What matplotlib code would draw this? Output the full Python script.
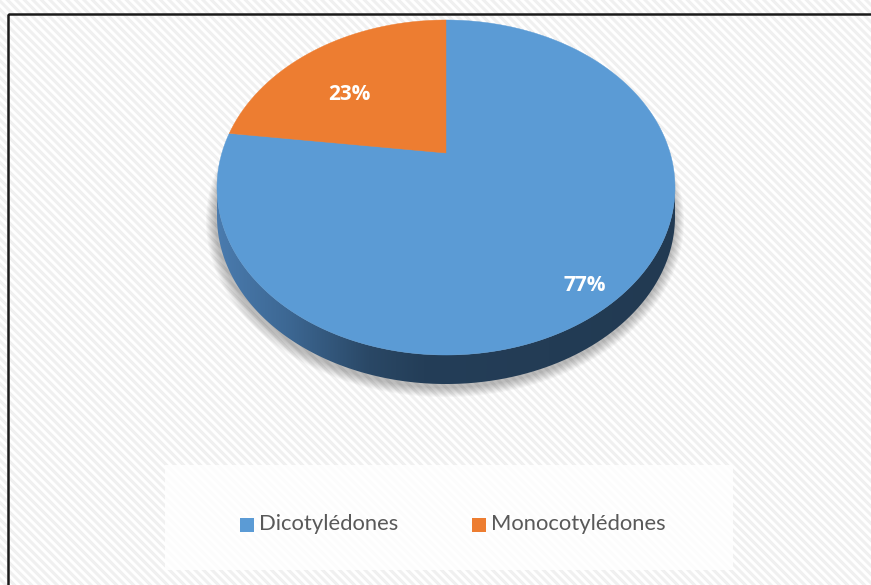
import numpy as np
import matplotlib
matplotlib.use("Agg")
import matplotlib.pyplot as plt
from matplotlib.patches import Polygon, Rectangle
from matplotlib.collections import LineCollection
from matplotlib.colors import LinearSegmentedColormap

# ---- data ----
categories = ["Dicotylédones", "Monocotylédones"]
values = [77, 23]
pct_labels = ["77%", "23%"]
colors = ["#5B9BD5", "#ED7D31"]

W, H = 871, 585
fig = plt.figure(figsize=(W / 100, H / 100), dpi=100)
ax = fig.add_axes([0, 0, 1, 1])
ax.set_xlim(0, W)
ax.set_ylim(H, 0)
ax.axis("off")

# ---- background stripes & border ----
bg = Rectangle((9, 15), W, H, facecolor="white", edgecolor="none", zorder=0)
ax.add_patch(bg)
segs = []
for c in np.arange(-900, 900, 8.5):
    segs.append([(-100, -100 + c), (1100, 1100 + c)])
lc = LineCollection(segs, colors="#f0f0f0", linewidths=2.2, zorder=1)
lc.set_clip_path(bg)
ax.add_collection(lc)
ax.add_patch(Rectangle((8, 14), W + 20, H + 20, facecolor="none",
                       edgecolor="#1a1a1a", linewidth=1.8, zorder=2))

# ---- perspective disc projection ----
cx, cy = 446.0, 153.0
A, B, k = 224.1, 160.4, 0.206
depth = 29.0


def proj(theta_deg, r=1.0, dy=0.0):
    t = np.radians(theta_deg)
    p = r * np.cos(t)
    q = r * np.sin(t)
    d = 1 + k * q
    return cx + A * p / d, cy - B * q / d + dy


# shadow under the pie
th_all = np.linspace(0, 360, 361)
for a in np.linspace(10, 1, 10):
    xs, ys = proj(th_all, 1.0, depth)
    ex = (xs - cx) * (1 + a / 230.0) + cx - 1
    ey = (ys - (cy + depth)) * (1 + a / 200.0) + cy + depth + 3
    ax.add_patch(Polygon(np.column_stack([ex, ey]), closed=True,
                         facecolor="#000000", alpha=0.028,
                         edgecolor="none", zorder=3))

# side wall (front arc between silhouette extremes)
t_left = 180 + np.degrees(np.arcsin(k))
t_right = 360 - np.degrees(np.arcsin(k))
arc = np.linspace(t_left, t_right, 200)
tx, ty = proj(arc)
bx, by = proj(arc[::-1], 1.0, depth)
side_pts = np.column_stack([np.concatenate([tx, bx]), np.concatenate([ty, by])])
side = Polygon(side_pts, closed=True, facecolor="none", edgecolor="none", zorder=4)
ax.add_patch(side)
side_cmap = LinearSegmentedColormap.from_list(
    "side", [(0.0, "#4a7bae"), (0.15, "#3d6894"), (0.33, "#2a4866"),
             (0.45, "#243e58"), (1.0, "#223a52")])
grad = np.linspace(0, 1, 256).reshape(1, -1)
xmin, xmax = side_pts[:, 0].min(), side_pts[:, 0].max()
ymin, ymax = side_pts[:, 1].min(), side_pts[:, 1].max()
im = ax.imshow(grad, cmap=side_cmap, extent=[xmin, xmax, ymax, ymin],
               aspect="auto", zorder=4, interpolation="bilinear")
im.set_clip_path(side)
ax.set_xlim(0, W)
ax.set_ylim(H, 0)

# top face wedges (clockwise from 12 o'clock)
total = float(sum(values))
start = 90.0
label_r = [0.88, 0.61]
label_dt = [-4.5, 8.5]
for i, v in enumerate(values):
    span = v / total * 360.0
    end = start - span
    th = np.linspace(start, end, 300)
    xs, ys = proj(th)
    pts = np.column_stack([np.concatenate([[cx], xs]), np.concatenate([[cy], ys])])
    ax.add_patch(Polygon(pts, closed=True, facecolor=colors[i],
                         edgecolor=colors[i], linewidth=0.3, zorder=5))
    mid = (start + end) / 2.0 + label_dt[i]
    lx, ly = proj(mid, label_r[i])
    ax.text(lx, ly, pct_labels[i], color="white", fontsize=15,
            fontweight="bold", family="Open Sans", ha="center", va="center",
            zorder=6)
    start = end

# ---- legend ----
ax.add_patch(Rectangle((165, 465), 568, 105, facecolor="white", alpha=0.85,
                       edgecolor="none", zorder=6))
leg_x = [240, 472]
for i, name in enumerate(categories):
    ax.add_patch(Rectangle((leg_x[i], 518), 14, 14, facecolor=colors[i],
                           edgecolor="none", zorder=7))
    ax.text(leg_x[i] + 19, 524, name, color="#595959", fontsize=15.8,
            family="Lato", ha="left", va="center", zorder=7)

fig.savefig("out.png", dpi=100)
